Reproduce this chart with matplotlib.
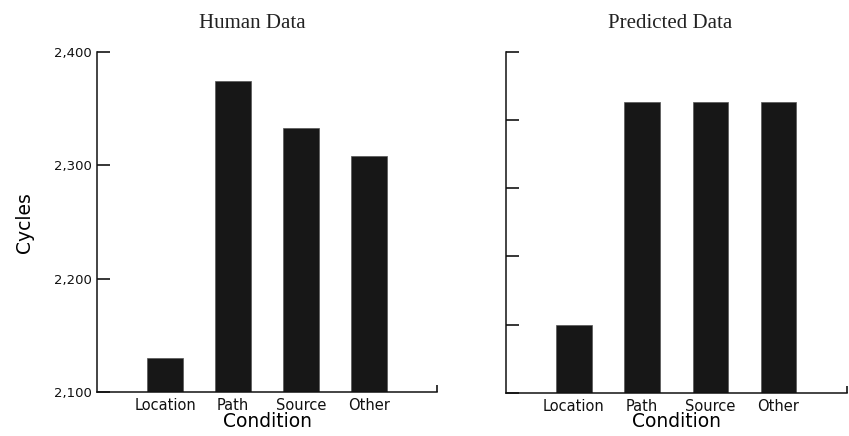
import matplotlib
matplotlib.use('Agg')
import matplotlib.pyplot as plt
from matplotlib.ticker import FixedLocator

conditions = ['Location', 'Path', 'Source', 'Other']
human_cycles = [2130, 2374, 2333, 2308]
predicted = [1.0, 4.26, 4.26, 4.26]  # no scale shown on the predicted panel

human_ticks = [2100, 2200, 2300, 2400]
human_tick_labels = ['2,100', '2,200', '2,300', '2,400']
pred_ticks = [0, 1, 2, 3, 4, 5]

BAR = '#171717'
SANS = 'DejaVu Sans'
SERIF = 'Liberation Serif'

fig = plt.figure(figsize=(8.49, 4.36), dpi=100)
ax1 = fig.add_axes([0.1143, 0.0998, 0.4005, 0.781])
ax2 = fig.add_axes([0.5956, 0.0986, 0.4016, 0.783])

xs = [1, 2, 3, 4]


def style(ax, title, title_x):
    ax.set_xlim(0, 5)
    ax.spines['top'].set_visible(False)
    ax.spines['right'].set_visible(False)
    for s in ('left', 'bottom'):
        ax.spines[s].set_linewidth(1.1)
        ax.spines[s].set_color('#111111')
    ax.set_xticks(xs)
    ax.set_xticklabels(conditions, fontfamily=SANS, fontsize=10.5, color='#111111')
    ax.tick_params(axis='x', length=0, pad=4)
    # small upright tick at the right end of the x axis
    ax.xaxis.set_minor_locator(FixedLocator([5]))
    ax.tick_params(axis='x', which='minor', direction='in', length=5, width=1.1)
    ax.tick_params(axis='y', direction='in', length=9, width=1.1, pad=4)
    ax.set_xlabel('Condition', fontfamily=SANS, fontsize=13.5, labelpad=-1)
    ax.set_title(title, fontfamily=SERIF, fontsize=15, pad=17, color='#222222', x=title_x)


ax1.bar(xs, human_cycles, width=0.52, color=BAR, edgecolor='#555555', linewidth=0.5)
ax1.set_ylim(2100, 2400)
ax1.set_yticks(human_ticks)
ax1.set_yticklabels(human_tick_labels, fontfamily=SANS, fontsize=9.5, color='#111111')
ax1.set_ylabel('Cycles', fontfamily=SANS, fontsize=13.5, labelpad=14)
style(ax1, 'Human Data', 0.456)

ax2.bar(xs, predicted, width=0.52, color=BAR, edgecolor='#555555', linewidth=0.5)
ax2.set_ylim(0, 5)
ax2.set_yticks(pred_ticks)
ax2.set_yticklabels([])
style(ax2, 'Predicted Data', 0.482)

fig.savefig('out.png', dpi=100)
